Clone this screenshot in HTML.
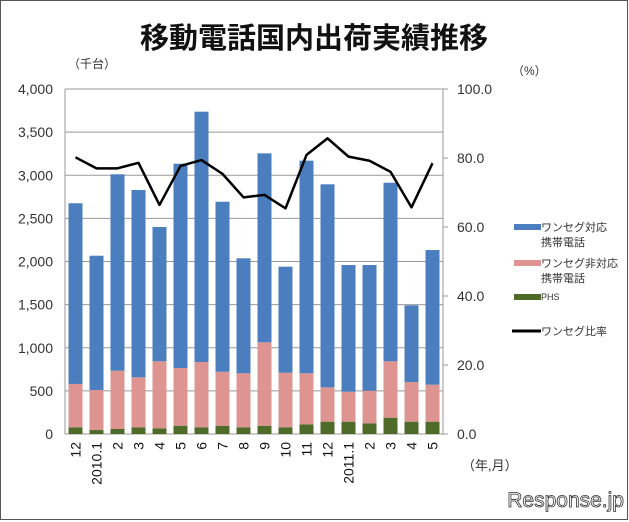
<!DOCTYPE html>
<html><head><meta charset="utf-8"><style>
body{margin:0;background:#fff}
svg{display:block;font-family:"Liberation Sans","Noto Sans CJK JP",sans-serif}
</style></head><body>
<svg id="c" width="629" height="522">
<rect x="0.5" y="0.5" width="627" height="519" fill="#fff" stroke="#555"/>
<text x="314" y="48" text-anchor="middle" font-size="29" font-weight="bold" fill="#111">移動電話国内出荷実績推移</text>
<text x="68" y="68" font-size="12" fill="#333">（千台）</text>
<text x="512" y="75" font-size="12" fill="#333">（%）</text>
<text x="462" y="470" font-size="13" fill="#333">（年,月）</text>
<text x="624" y="507" text-anchor="end" font-size="21" fill="#fff" stroke="#333" stroke-width="0.8">Response.jp</text>
<g id="grid"></g><g id="bars"></g><g id="axes"></g><g id="line"></g>
<g>
<rect x="514" y="224" width="27" height="6" fill="#4a7ebf"/>
<text x="541" y="231" font-size="11" fill="#333">ワンセグ対応</text>
<text x="541" y="246" font-size="11" fill="#333">携帯電話</text>
<rect x="514" y="260" width="27" height="6" fill="#de9490"/>
<text x="541" y="267" font-size="11" fill="#333">ワンセグ非対応</text>
<text x="541" y="282" font-size="11" fill="#333">携帯電話</text>
<rect x="514" y="294" width="27" height="6" fill="#4f6b2a"/>
<text x="541" y="300" font-size="9" fill="#333">PHS</text>
<line x1="512" y1="331" x2="541" y2="331" stroke="#000" stroke-width="3"/>
<text x="541" y="335" font-size="11" fill="#333">ワンセグ比率</text>
</g>
</svg>
<script>
const categories=["12","2010.1","2","3","4","5","6","7","8","9","10","11","12","2011.1","2","3","4","5"];
const phs=[78,46,58,78,66,96,78,96,78,96,78,112,143,143,124,189,143,143];
const non1seg=[502,464,676,579,777,669,757,626,626,967,633,592,398,347,378,654,460,429];
const oneseg=[2095,1557,2277,2172,1557,2369,2902,1971,1333,2191,1229,2465,2354,1469,1457,2070,889,1561];
const ratio=[80.2,77.0,77.0,78.6,66.4,77.7,79.4,75.4,68.6,69.3,65.4,80.9,85.7,80.4,79.2,76.0,65.7,78.5];
const leftTicks=["0","500","1,000","1,500","2,000","2,500","3,000","3,500","4,000"];
const rightTicks=["0.0","20.0","40.0","60.0","80.0","100.0"];
const NS="http://www.w3.org/2000/svg";
const X0=65,X1=443,Y0=434,Y1=89;
const step=(X1-X0)/categories.length;
const xc=i=>X0+step*(i+0.5);
const yL=v=>Y0-(v/4000)*(Y0-Y1);
const yR=v=>Y0-(v/100)*(Y0-Y1);
function mk(p,t,a){const e=document.createElementNS(NS,t);for(const k in a)e.setAttribute(k,a[k]);document.getElementById(p).appendChild(e);return e;}
leftTicks.forEach((t,i)=>{const v=i*500;
 const g=mk("grid","line",{x1:X0,x2:X1,y1:yL(v),y2:yL(v),stroke:"#999","stroke-width":1});
 
 
 const tx=mk("axes","text",{x:X0-12,y:yL(v)+5,"text-anchor":"end","font-size":14,fill:"#333"});
 tx.textContent=t;
 
 
});
rightTicks.forEach((t,i)=>{const v=i*20;
 const l=mk("axes","line",{x1:X1,x2:X1+5,y1:yR(v),y2:yR(v),stroke:"#999"});
 
 
 const tx=mk("axes","text",{x:X1+14,y:yR(v)+5,"font-size":14,fill:"#333"});
 tx.textContent=t;
 
 
});
const la=mk("axes","line",{x1:X0,x2:X0,y1:Y1,y2:Y0,stroke:"#999"});


const ra=mk("axes","line",{x1:X1,x2:X1,y1:Y1,y2:Y0,stroke:"#999"});


const bw=14;
categories.forEach((c,i)=>{
 let base=0;
 [[phs[i],"#4f6b2a","bar-phs"],[non1seg[i],"#de9490","bar-non1seg"],[oneseg[i],"#4a7ebf","bar-1seg"]].forEach(([v,col,nm])=>{
  const r=mk("bars","rect",{x:xc(i)-bw/2,y:yL(base+v),width:bw,height:yL(base)-yL(base+v),fill:col});
  
  
  base+=v;
 });
 const tx=mk("axes","text",{transform:`translate(${xc(i)+5},442) rotate(-90)`,"text-anchor":"end","font-size":14,fill:"#111"});
 tx.textContent=c;
 
 
});
const p=mk("line","polyline",{points:ratio.map((v,i)=>xc(i)+","+yR(v)).join(" "),fill:"none",stroke:"#000","stroke-width":2.5,"stroke-linejoin":"round"});


</script>
</body></html>
